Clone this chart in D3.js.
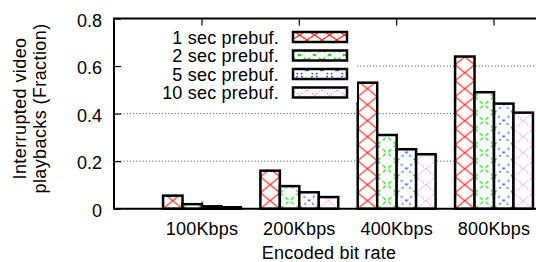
<!DOCTYPE html>
<html>
<head>
<meta charset="utf-8">
<script src="https://cdn.jsdelivr.net/npm/d3@7"></script>
<style>
  body { margin: 0; background: #fff; }
  svg { display: block; font-family: "Liberation Sans", Arial, sans-serif; }
</style>
</head>
<body>
<div id="chart"></div>
<script>
const categories = ["100Kbps", "200Kbps", "400Kbps", "800Kbps"];
const seriesNames = ["1 sec prebuf.", "2 sec prebuf.", "5 sec prebuf.", "10 sec prebuf."];
const prebuf1 = [0.055, 0.16, 0.53, 0.64];
const prebuf2 = [0.019, 0.095, 0.31, 0.49];
const prebuf5 = [0.01, 0.069, 0.25, 0.442];
const prebuf10 = [0.006, 0.049, 0.229, 0.404];
const yTicks = [0, 0.2, 0.4, 0.6, 0.8];
const gridTicks = [0.2, 0.4, 0.6];

const series = [prebuf1, prebuf2, prebuf5, prebuf10];
const colors = ["#ff2a1a", "#14dd14", "#2040ff", "#ff40ff"];
const dashes = [null, "4,3", "2,3.5", "1,2"];

const width = 536, height = 262;
const plotLeft = 114, plotTop = 18.5, plotBottom = 208.7;

const svg = d3.select("#chart").append("svg")
  .attr("width", width)
  .attr("height", height);

const x = d3.scaleBand()
  .domain(categories)
  .range([plotLeft, 582])
  .paddingInner(0)
  .paddingOuter(0.404);

const y = d3.scaleLinear()
  .domain([0, 0.8])
  .range([plotBottom, plotTop]);

const bw = x.step() / 5;
const center = d => x(d) + x.bandwidth() / 2;

// fill patterns, one tile = one bar wide so they line up with every bar
const defs = svg.append("defs");
function makePattern(id, i, w, h, ox, oy) {
  const p = defs.append("pattern")
    .attr("id", id)
    .attr("patternUnits", "userSpaceOnUse")
    .attr("x", ox).attr("y", oy)
    .attr("width", w).attr("height", h);
  p.append("rect").attr("width", w).attr("height", h).attr("fill", "#fff");
  [[0, 0, w, h], [w, 0, 0, h]].forEach(l => {
    p.append("line")
      .attr("x1", l[0]).attr("y1", l[1]).attr("x2", l[2]).attr("y2", l[3])
      .attr("stroke", colors[i])
      .attr("stroke-width", i === 3 ? 1 : 1.2)
      .attr("stroke-dasharray", dashes[i]);
  });
}
series.forEach((s, i) => {
  makePattern("pat" + i, i, bw, 16, center(categories[0]) - 2 * bw, plotBottom);
  makePattern("leg" + i, i, 15, 10, 292, 0);
});

// grid lines
svg.append("g")
  .selectAll("line")
  .data(gridTicks)
  .join("line")
  .attr("x1", plotLeft).attr("x2", width)
  .attr("y1", d => y(d)).attr("y2", d => y(d))
  .attr("stroke", "#444")
  .attr("stroke-width", 1)
  .attr("stroke-dasharray", "1,2.2");

// bars
series.forEach((s, i) => {
  svg.append("g")
    .selectAll("rect")
    .data(s)
    .join("rect")
    .attr("x", (d, j) => center(categories[j]) + (i - 2) * bw)
    .attr("y", d => y(d))
    .attr("width", bw)
    .attr("height", d => plotBottom - y(d))
    .attr("fill", `url(#pat${i})`)
    .attr("stroke", "#000")
    .attr("stroke-width", 2.5);
});

// legend
const legend = svg.append("g");
legend.append("rect")
  .attr("x", plotLeft + 1).attr("y", 27)
  .attr("width", 357 - plotLeft - 1).attr("height", 75)
  .attr("fill", "#fff");
const rowY = [37, 55.5, 74, 92.5];
seriesNames.forEach((name, i) => {
  legend.append("text")
    .attr("x", 279)
    .attr("y", rowY[i] + 6.5)
    .attr("text-anchor", "end")
    .attr("font-size", 18)
    .attr("letter-spacing", 0.2)
    .text(name);
  legend.append("rect")
    .attr("x", 293).attr("y", rowY[i] - 5)
    .attr("width", 54).attr("height", 10)
    .attr("fill", `url(#leg${i})`)
    .attr("stroke", "#000")
    .attr("stroke-width", 2.5);
});

// axes
const yAxis = svg.append("g")
  .attr("transform", `translate(${plotLeft},0)`)
  .call(d3.axisLeft(y).tickValues(yTicks).tickSize(-7).tickPadding(12)
    .tickFormat(d => d === 0 ? "0" : d3.format(".1f")(d)));
yAxis.select(".domain").remove();
yAxis.selectAll("text").attr("font-size", 18).attr("fill", "#000").attr("dy", "0.42em");
yAxis.selectAll("line").attr("stroke-width", 1.2);

const xAxis = svg.append("g")
  .attr("transform", `translate(0,${plotBottom})`)
  .call(d3.axisBottom(x).tickSize(-7).tickPadding(13.5));
xAxis.select(".domain").remove();
xAxis.selectAll("text").attr("font-size", 18).attr("fill", "#000").attr("letter-spacing", 0.2);
xAxis.selectAll("line").attr("stroke-width", 1.2);

const topAxis = svg.append("g")
  .attr("transform", `translate(0,${plotTop})`)
  .call(d3.axisTop(x).tickSize(-7).tickFormat(""));
topAxis.select(".domain").remove();
topAxis.selectAll("line").attr("stroke-width", 1.2);

// frame
svg.append("path")
  .attr("d", `M${width},${plotTop}H${plotLeft}V${plotBottom}H${width}`)
  .attr("fill", "none")
  .attr("stroke", "#000")
  .attr("stroke-width", 2);

// axis titles
svg.append("text")
  .attr("x", 329).attr("y", 258.5)
  .attr("text-anchor", "middle")
  .attr("font-size", 18)
  .attr("letter-spacing", 0.2)
  .text("Encoded bit rate");

[["Interrupted video", 26], ["playbacks (Fraction)", 46]].forEach(([t, bx]) => {
  svg.append("text")
    .attr("transform", `translate(${bx},108.5) rotate(-90)`)
    .attr("text-anchor", "middle")
    .attr("font-size", 18)
    .attr("letter-spacing", 0.4)
    .text(t);
});
</script>
</body>
</html>
